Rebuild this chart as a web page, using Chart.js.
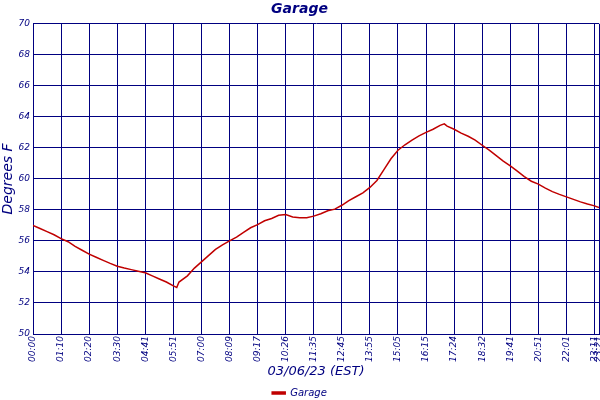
<!DOCTYPE html>
<html lang="en">
<head>
<meta charset="UTF-8">
<title>Garage</title>
<script src="https://cdn.jsdelivr.net/npm/chart.js"></script>
<style>
  html, body { margin: 0; padding: 0; background: #fff; }
  #wrap { width: 600px; height: 400px; }
</style>
</head>
<body>
<div id="wrap"><canvas id="garageChart"></canvas></div>
<script>
// tick labels along the time axis (one per grid column, last one is the end of the day)
const tickLabels = ['00:00', '01:10', '02:20', '03:30', '04:41', '05:51', '07:00', '08:09', '09:17', '10:26',
  '11:35', '12:45', '13:55', '15:05', '16:15', '17:24', '18:32', '19:41', '20:51', '22:01', '23:11', '23:21']
const tickPos = [0, 1, 2, 3, 4, 5, 6, 7, 8, 9, 10, 11, 12, 13, 14, 15, 16, 17, 18, 19, 20, 20.16]

// readings, position measured in label columns
const samplePos = [0, 0.25, 0.5, 0.75, 1, 1.25, 1.5, 1.75, 2, 2.25, 2.5, 2.75, 3, 3.25, 3.5, 3.75,
  4, 4.25, 4.5, 4.75, 5, 5.12, 5.2, 5.5, 5.75, 6, 6.25, 6.5, 6.75, 7, 7.25, 7.5, 7.75,
  8, 8.25, 8.5, 8.75, 9, 9.25, 9.5, 9.75, 10, 10.25, 10.5, 10.75, 11, 11.25, 11.5, 11.75,
  12, 12.25, 12.5, 12.75, 13, 13.25, 13.5, 13.75, 14, 14.25, 14.5, 14.65, 14.75, 15, 15.25, 15.5, 15.75,
  16, 16.25, 16.5, 16.75, 17, 17.25, 17.5, 17.75, 18, 18.25, 18.5, 18.75, 19, 19.25, 19.5, 19.75, 20, 20.16]
const garageTemp = [57.0, 56.8, 56.6, 56.4, 56.15, 55.95, 55.65, 55.4, 55.15, 54.95, 54.75, 54.55, 54.37, 54.25, 54.15, 54.05,
  53.95, 53.75, 53.55, 53.35, 53.1, 53.0, 53.35, 53.75, 54.25, 54.65, 55.05, 55.45, 55.75, 56.0, 56.25, 56.55, 56.85,
  57.05, 57.3, 57.45, 57.65, 57.7, 57.55, 57.5, 57.5, 57.6, 57.75, 57.95, 58.05, 58.3, 58.6, 58.85, 59.1,
  59.45, 59.9, 60.6, 61.3, 61.85, 62.2, 62.5, 62.77, 63.0, 63.2, 63.45, 63.55, 63.4, 63.2, 62.95, 62.75, 62.5,
  62.17, 61.85, 61.5, 61.15, 60.84, 60.5, 60.15, 59.85, 59.66, 59.4, 59.18, 59.0, 58.84, 58.68, 58.52, 58.38, 58.26, 58.15]

const NAVY = '#000080'
const FONT = 'DejaVu Sans'

const points = samplePos.map((x, i) => ({ x: x, y: garageTemp[i] }))

new Chart(document.getElementById('garageChart'), {
  type: 'line',
  data: {
    datasets: [{
      label: 'Garage',
      data: points,
      borderColor: '#c00000',
      backgroundColor: '#c00000',
      borderWidth: 1.5,
      pointRadius: 0,
      tension: 0,
    }]
  },
  options: {
    responsive: true,
    maintainAspectRatio: false,
    animation: false,
    layout: { padding: { left: 0, right: 1, top: 0, bottom: -8 } },
    plugins: {
      title: {
        display: true,
        text: 'Garage',
        color: NAVY,
        font: { family: FONT, size: 14, weight: 'bold', style: 'italic' },
        padding: { top: 1, bottom: 6 },
      },
      legend: {
        position: 'bottom',
        labels: {
          color: NAVY,
          font: { family: FONT, size: 10, style: 'italic' },
          boxWidth: 13,
          boxHeight: 2,
          padding: 2,
        },
      },
      tooltip: { enabled: false },
    },
    scales: {
      x: {
        type: 'linear',
        min: 0,
        max: 20.16,
        border: { color: NAVY },
        grid: { color: NAVY, drawTicks: false },
        afterBuildTicks: (scale) => {
          scale.ticks = tickPos.map((v) => ({ value: v }))
        },
        afterFit: (scale) => {
          scale.height = 52
          scale.paddingLeft = 0
          scale.paddingRight = 0
        },
        ticks: {
          autoSkip: false,
          minRotation: 90,
          maxRotation: 90,
          padding: 2,
          color: NAVY,
          font: { family: FONT, size: 9, style: 'italic' },
          callback: (val, i) => tickLabels[i],
        },
        title: {
          display: true,
          text: '03/06/23 (EST)',
          color: NAVY,
          font: { family: FONT, size: 13, style: 'italic' },
          padding: { top: 0, bottom: 7 },
        },
      },
      y: {
        min: 50,
        max: 70,
        border: { color: NAVY },
        grid: { color: NAVY, drawTicks: false },
        afterFit: (scale) => {
          scale.width = 33
        },
        ticks: {
          stepSize: 2,
          padding: 3,
          color: NAVY,
          font: { family: FONT, size: 9, style: 'italic' },
        },
        title: {
          display: true,
          text: 'Degrees F',
          color: NAVY,
          font: { family: FONT, size: 14, style: 'italic' },
          padding: 0,
        },
      },
    },
  },
})
</script>
</body>
</html>
